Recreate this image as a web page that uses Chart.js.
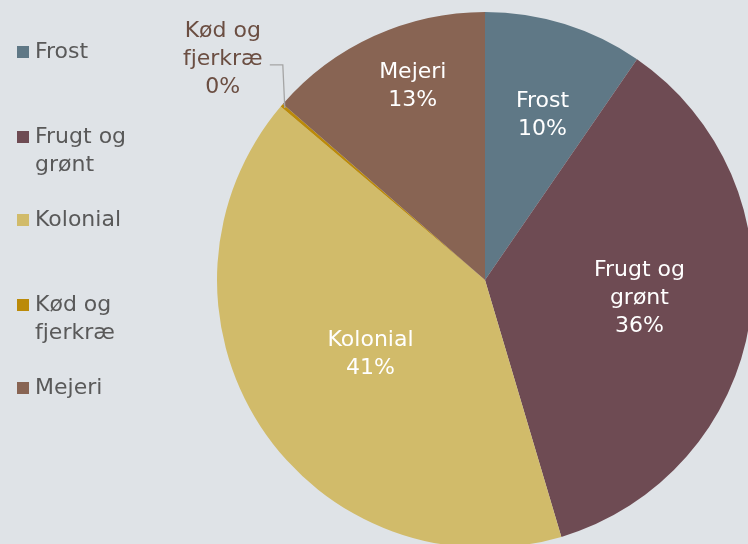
<!DOCTYPE html>
<html><head><meta charset="utf-8">
<script src="https://cdn.jsdelivr.net/npm/chart.js@4"></script>
<style>
html,body{margin:0;padding:0;background:#dfe3e7;overflow:hidden;}
#wrap{position:relative;width:748px;height:544px;overflow:hidden;}
#c{position:absolute;left:0;top:0;}
</style></head><body>
<div id="wrap"><canvas id="c" width="760" height="560"></canvas></div>
<script>
const categories = ["Frost", "Frugt og grønt", "Kolonial", "Kød og fjerkræ", "Mejeri"];
const shares = [9.6, 35.8, 40.8, 0.2, 13.6];
const percentLabels = ["10%", "36%", "41%", "0%", "13%"];
const legendLines = [["Frost"], ["Frugt og", "grønt"], ["Kolonial"], ["Kød og", "fjerkræ"], ["Mejeri"]];
const sliceLines = [["Frost"], ["Frugt og", "grønt"], ["Kolonial"], ["Kød og", "fjerkræ"], ["Mejeri"]];
const colors = ["#5f7886", "#6e4b53", "#d1bb6a", "#bb8a09", "#886453"];

const FONT = "'DejaVu Sans', sans-serif";

const labelPlugin = {
  id: 'sliceLabels',
  afterDatasetsDraw(chart) {
    const ctx = chart.ctx;
    const meta = chart.getDatasetMeta(0);
    const fr = [0.65, 0.58, 0.51, 0, 0.77];
    const off = [2, -2.4, 0, 0, 4];
    ctx.save();
    ctx.font = "22px " + FONT;
    ctx.textAlign = 'center';
    ctx.textBaseline = 'middle';
    meta.data.forEach((arc, i) => {
      const lines = sliceLines[i].concat([percentLabels[i]]);
      const mid = (arc.startAngle + arc.endAngle) / 2 + off[i] * Math.PI / 180;
      if (i === 3) {
        const a = (arc.startAngle + arc.endAngle) / 2;
        const ex = arc.x + Math.cos(a) * arc.outerRadius * 0.985;
        const ey = arc.y + Math.sin(a) * arc.outerRadius * 0.985;
        ctx.strokeStyle = '#a5a5a5';
        ctx.lineWidth = 1.3;
        ctx.beginPath();
        ctx.moveTo(ex, ey);
        ctx.lineTo(ex - 2, ey - 43);
        ctx.lineTo(ex - 15, ey - 43);
        ctx.stroke();
        ctx.fillStyle = '#6b4e42';
        const cx = ex - 62, cy = ey - 49;
        lines.forEach((t, k) => ctx.fillText(t, cx, cy + (k - (lines.length - 1) / 2) * 28));
        return;
      }
      const r = arc.outerRadius * fr[i];
      const cx = arc.x + Math.cos(mid) * r;
      const cy = arc.y + Math.sin(mid) * r;
      ctx.fillStyle = '#ffffff';
      lines.forEach((t, k) => ctx.fillText(t, cx, cy + (k - (lines.length - 1) / 2) * 28));
    });
    ctx.textAlign = 'left';
    ctx.font = "22px " + FONT;
    const tops = [52, 137, 220, 305, 388];
    legendLines.forEach((ls, i) => {
      ctx.fillStyle = colors[i];
      ctx.fillRect(17, tops[i] - 6, 12, 12);
      ctx.fillStyle = '#595959';
      ls.forEach((t, k) => ctx.fillText(t, 35, tops[i] + k * 28));
    });
    ctx.restore();
  }
};

new Chart(document.getElementById('c'), {
  type: 'pie',
  data: {
    labels: categories,
    datasets: [{ data: shares, backgroundColor: colors, borderWidth: 0 }]
  },
  options: {
    responsive: false,
    animation: false,
    layout: { padding: { left: 217, right: 7, top: 12, bottom: 12 } },
    plugins: { legend: { display: false }, tooltip: { enabled: false } }
  },
  plugins: [labelPlugin]
});
</script>
</body></html>
